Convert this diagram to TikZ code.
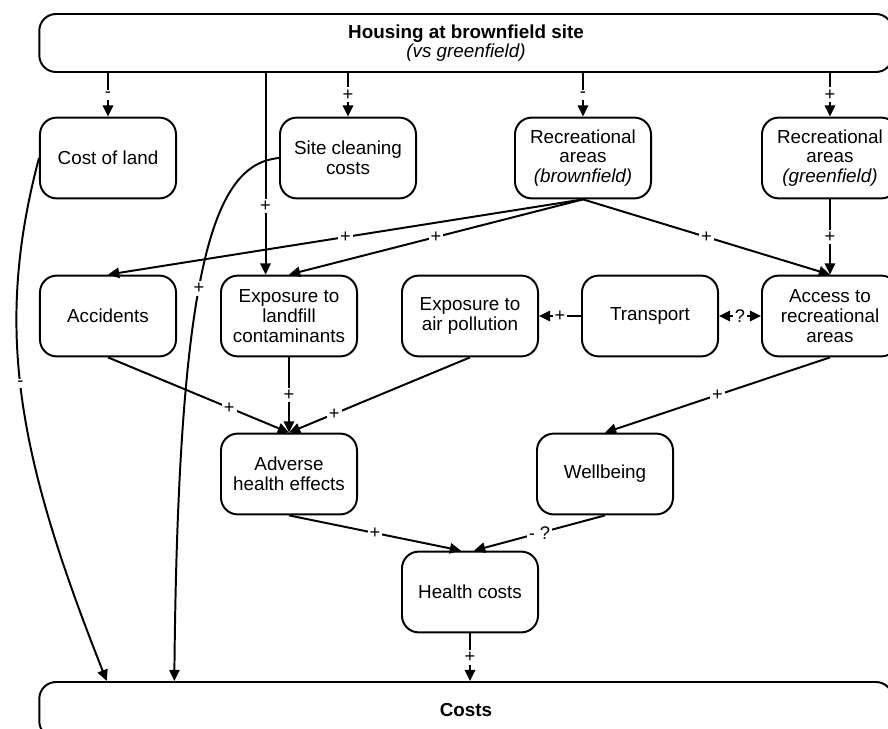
\documentclass[tikz,border=0pt]{standalone}
\usepackage{fontspec}
\setmainfont{Liberation Sans}
\usetikzlibrary{arrows.meta,calc,positioning}

\begin{document}
\begin{tikzpicture}[
        x=0.025cm,
        y=-0.025cm,
        font=\fontsize{13.4}{14}\selectfont,
        factor/.style={
            draw,
            line width=1.4pt,
            rounded corners=0.42cm,
            minimum width=3.4cm,
            minimum height=2.02cm,
            align=center,
            inner sep=2pt
        },
        bigbox/.style={
            draw,
            line width=1.4pt,
            rounded corners=0.42cm,
            minimum width=21.33cm,
            align=center
        },
        arrow/.style={
            -{Triangle[length=2.8mm,width=2.6mm]},
            line width=1.4pt
        },
        biarrow/.style={
            {Triangle[length=2.8mm,width=2.6mm]}-{Triangle[length=2.8mm,width=2.6mm]},
            line width=1.4pt
        },
        sign/.style={
            fill=white,
            inner sep=1.5pt,
            font=\fontsize{13}{13}\selectfont
        }
    ]

        \useasboundingbox (0,0) rectangle (888,729);

        % Ausgangspunkt
        \node[bigbox,minimum height=1.45cm] (housing) at (466,43)
            {\textbf{Housing at brownfield site}\\\textit{(vs greenfield)}};

        % Ebene 1
        \node[factor] (costland)  at (108,158) {Cost of land};
        \node[factor] (siteclean) at (348,158) {Site cleaning\\costs};
        \node[factor] (recbrown)  at (583,158) {Recreational\\areas\\\textit{(brownfield)}};
        \node[factor] (recgreen)  at (830,158) {Recreational\\areas\\\textit{(greenfield)}};

        % Ebene 2
        \node[factor] (accidents) at (108,316) {Accidents};
        \node[factor] (landfill)  at (289,316) {Exposure to\\landfill\\contaminants};
        \node[factor] (airpoll)   at (470,316) {Exposure to\\air pollution};
        \node[factor] (transport) at (650,316) {Transport};
        \node[factor] (access)    at (830,316) {Access to\\recreational\\areas};

        % Ebene 3 und 4
        \node[factor] (adverse)     at (289,474) {Adverse\\health effects};
        \node[factor] (wellbeing)   at (605,474) {Wellbeing};
        \node[factor] (healthcosts) at (470,592) {Health costs};

        % Ergebnis
        \node[bigbox,minimum height=1.4cm] (costs) at (466,710) {\textbf{Costs}};

        % Eintrittspunkte
        \coordinate (landfill-in) at
            ($(landfill.north west)!0.33!(landfill.north east)$);
        \coordinate (costs-land) at
            ($(costs.north west)!0.08!(costs.north east)$);
        \coordinate (costs-site) at
            ($(costs.north west)!0.159!(costs.north east)$);
        \coordinate (hc-left)  at ($(healthcosts.north)+(-9,0)$);
        \coordinate (hc-right) at ($(healthcosts.north)+(4,0)$);

        % Vom Ausgangspunkt nach unten
        \draw[arrow]
            (housing.south -| costland.north)
            -- node[sign]{-} (costland.north);
        \draw[arrow]
            (housing.south -| landfill-in)
            -- node[sign,pos=0.66]{+} (landfill-in);
        \draw[arrow]
            (housing.south -| siteclean.north)
            -- node[sign]{+} (siteclean.north);
        \draw[arrow]
            (housing.south -| recbrown.north)
            -- node[sign]{-} (recbrown.north);
        \draw[arrow]
            (housing.south -| recgreen.north)
            -- node[sign]{+} (recgreen.north);

        % Direkte Kosten
        \draw[arrow]
            (costland.west)
            .. controls +(-45,170) and +(-90,-227) ..
            node[sign,pos=0.47]{-}
            (costs-land);
        \draw[arrow]
            (siteclean.west)
            .. controls +(-64,6) and +(4,-422) ..
            node[sign,pos=0.55]{+}
            (costs-site);

        % Erholungsflaechen
        \draw[arrow]
            (recbrown.south) -- node[sign]{+} (accidents.north);
        \draw[arrow]
            (recbrown.south) -- node[sign]{+} (landfill.north);
        \draw[arrow]
            (recbrown.south) -- node[sign]{+} (access.north);
        \draw[arrow]
            (recgreen.south) -- node[sign]{+} (access.north);

        % Verkehr
        \draw[arrow]
            (transport.west) -- node[sign]{+} (airpoll.east);
        \draw[biarrow]
            (transport.east) -- node[sign]{?} (access.west);

        % Gesundheit
        \draw[arrow]
            (accidents.south) -- node[sign,pos=0.67]{+} (adverse.north);
        \draw[arrow]
            (landfill.south) -- node[sign]{+} (adverse.north);
        \draw[arrow]
            (airpoll.south) -- node[sign,pos=0.75]{+} (adverse.north);
        \draw[arrow]
            (access.south) -- node[sign]{+} (wellbeing.north);
        \draw[arrow]
            (adverse.south) -- node[sign]{+} (hc-left);
        \draw[arrow]
            (wellbeing.south) -- node[sign]{- ?} (hc-right);
        \draw[arrow]
            (healthcosts.south) -- node[sign]{+} (costs.north -| healthcosts.south);

    \end{tikzpicture}
\end{document}
